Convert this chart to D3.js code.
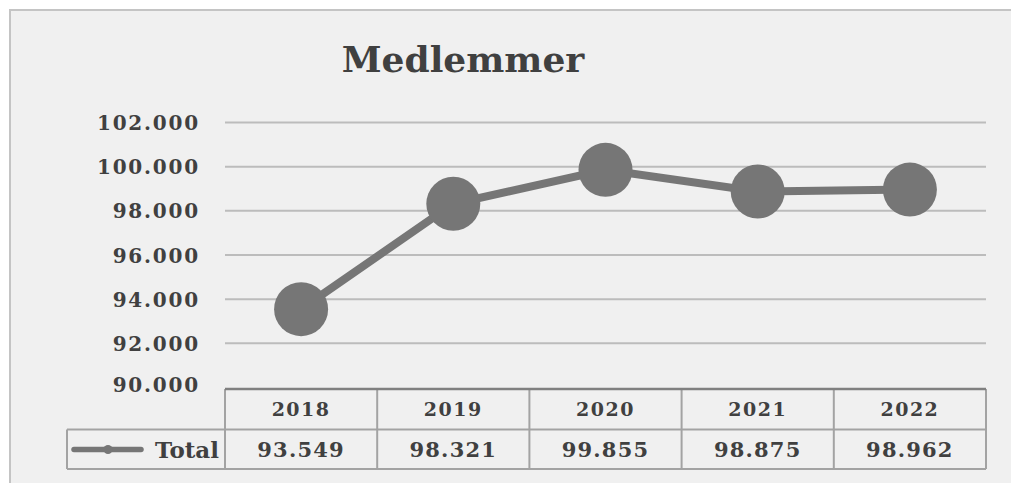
<!DOCTYPE html>
<html><head><meta charset="utf-8">
<script src="https://cdn.jsdelivr.net/npm/d3@7"></script>
<style>html,body{margin:0;padding:0;background:#fff;}svg{display:block;}</style>
</head><body>
<script>
const categories = ["2018","2019","2020","2021","2022"];
const values = [93549, 98321, 99855, 98875, 98962];
const yTicks = [90000, 92000, 94000, 96000, 98000, 100000, 102000];
const seriesName = "Total";
const title = "Medlemmer";

const W = 1011, H = 483;
const FONT = "'DejaVu Serif', serif";
const svg = d3.select("body").append("svg").attr("width", W).attr("height", H);

svg.append("rect").attr("x", 10).attr("y", 10).attr("width", W + 20).attr("height", H + 20)
  .attr("fill", "#f0f0f0").attr("stroke", "#c4c4c4").attr("stroke-width", 2);

const x = d3.scaleBand().domain(categories).range([225, 986]);
const y = d3.scaleLinear().domain([90000, 102000]).range([387.5, 122.5]);
const fmt = d => d3.format(",")(d).replace(/,/g, ".");
const fmtVal = d => d3.format(",.3f")(d / 1000).replace(/,/g, "");

svg.append("text").attr("x", 463).attr("y", 72).attr("text-anchor", "middle")
  .attr("font-family", FONT).attr("font-weight", "bold").attr("font-size", 36)
  .attr("fill", "#404040").text(title);

// gridlines
svg.append("g").selectAll("line").data(yTicks.filter(t => t > 90000)).join("line")
  .attr("x1", 225).attr("x2", 986).attr("y1", d => y(d)).attr("y2", d => y(d))
  .attr("stroke", "#bcbcbc").attr("stroke-width", 2);

// y axis labels
const yAxis = d3.axisLeft(y).tickValues(yTicks).tickFormat(fmt).tickSize(0).tickPadding(0);
const yg = svg.append("g").attr("transform", "translate(200,0)").call(yAxis);
yg.select(".domain").remove();
yg.selectAll("text").attr("font-family", FONT).attr("font-weight", "bold")
  .attr("font-size", 20).attr("letter-spacing", 1.8).attr("fill", "#404040").attr("dy", "0.35em");
yg.selectAll(".tick").filter(d => d === 90000).select("text").attr("dy", "0.2em");

// line
const cx = d => x(d) + x.bandwidth() / 2;
svg.append("path").datum(values)
  .attr("d", d3.line().x((d, i) => cx(categories[i])).y(d => y(d)))
  .attr("fill", "none").attr("stroke", "#767676").attr("stroke-width", 8);
svg.append("g").selectAll("circle").data(values).join("circle")
  .attr("cx", (d, i) => cx(categories[i])).attr("cy", d => y(d)).attr("r", 27)
  .attr("fill", "#767676");

// data table
const tTop = 389, tMid = 429.5, tBot = 469, tLeft = 67;
const tg = svg.append("g");
const border = "#a3a3a3";
tg.append("line").attr("x1", tLeft).attr("x2", 986).attr("y1", tMid).attr("y2", tMid).attr("stroke", border).attr("stroke-width", 2);
tg.append("line").attr("x1", tLeft).attr("x2", 986).attr("y1", tBot).attr("y2", tBot).attr("stroke", border).attr("stroke-width", 2);
tg.append("line").attr("x1", tLeft).attr("x2", tLeft).attr("y1", tMid).attr("y2", tBot).attr("stroke", border).attr("stroke-width", 2);
tg.selectAll("line.v").data(categories.concat(["end"])).join("line").attr("class", "v")
  .attr("x1", d => d === "end" ? 986 : x(d)).attr("x2", d => d === "end" ? 986 : x(d))
  .attr("y1", tTop).attr("y2", tBot).attr("stroke", border).attr("stroke-width", 2);
tg.append("line").attr("x1", 225).attr("x2", 986).attr("y1", tTop).attr("y2", tTop)
  .attr("stroke", "#808080").attr("stroke-width", 2.5);

tg.selectAll("text.yr").data(categories).join("text").attr("class", "yr")
  .attr("x", d => cx(d)).attr("y", (tTop + tMid) / 2).attr("dy", "0.35em")
  .attr("text-anchor", "middle").attr("font-family", FONT).attr("font-weight", "bold")
  .attr("font-size", 19).attr("letter-spacing", 1.5).attr("fill", "#404040").text(d => d);
tg.selectAll("text.val").data(values).join("text").attr("class", "val")
  .attr("x", (d, i) => cx(categories[i])).attr("y", (tMid + tBot) / 2).attr("dy", "0.38em")
  .attr("text-anchor", "middle").attr("font-family", FONT).attr("font-weight", "bold")
  .attr("font-size", 21).attr("letter-spacing", 1.2).attr("fill", "#404040").text(d => fmtVal(d));

// legend key
const ly = 449.5;
tg.append("line").attr("x1", 74).attr("x2", 141).attr("y1", ly).attr("y2", ly)
  .attr("stroke", "#767676").attr("stroke-width", 5.5).attr("stroke-linecap", "round");
tg.append("circle").attr("cx", 108).attr("cy", ly).attr("r", 4.5).attr("fill", "#767676");
tg.append("text").attr("x", 219).attr("y", ly).attr("dy", "0.35em").attr("text-anchor", "end")
  .attr("font-family", FONT).attr("font-weight", "bold").attr("font-size", 23)
  .attr("fill", "#404040").text(seriesName);
</script>
</body></html>
